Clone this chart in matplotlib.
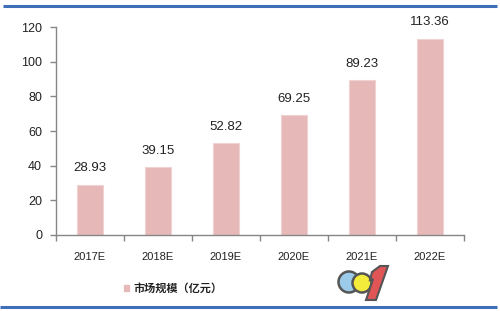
import matplotlib
matplotlib.use("Agg")
import matplotlib.pyplot as plt
from matplotlib.patches import Circle, Polygon

categories = ["2017E", "2018E", "2019E", "2020E", "2021E", "2022E"]
values = [28.93, 39.15, 52.82, 69.25, 89.23, 113.36]
value_labels = ["28.93", "39.15", "52.82", "69.25", "89.23", "113.36"]
series_name = "市场规模（亿元）"
yticks = [0, 20, 40, 60, 80, 100, 120]

plt.rcParams['font.family'] = ['Liberation Sans', 'Noto Sans CJK SC', 'DejaVu Sans']

fig = plt.figure(figsize=(5, 3.11), dpi=100)
fig.patch.set_facecolor('white')

ax = fig.add_axes([0.112, 0.2444, 0.816, 0.6687])
bar_color = '#E6B9B8'
x = list(range(len(categories)))
ax.bar(x, values, width=0.38, color=bar_color, edgecolor='#EFD3D2', linewidth=0.8, zorder=2)
ax.set_xlim(-0.5, len(categories) - 0.5)
ax.set_ylim(0, 120)
ax.set_yticks(yticks)
ax.set_yticklabels([str(v) for v in yticks], fontsize=9, color='#222222')
ax.set_xticks(x)
ax.set_xticklabels(categories, fontsize=8, color='#222222')
ax.tick_params(axis='x', length=0, pad=12)
ax.set_xticks([i - 0.5 for i in range(len(categories) + 1)], minor=True)
ax.tick_params(axis='x', which='minor', length=4, direction='out', color='#868686', width=1)
ax.tick_params(axis='y', length=4, direction='out', color='#868686', width=1, pad=6)
for s in ['top', 'right']:
    ax.spines[s].set_visible(False)
for s in ['left', 'bottom']:
    ax.spines[s].set_color('#868686')
    ax.spines[s].set_linewidth(1)

for xi, v, lab in zip(x, values, value_labels):
    ax.annotate(lab, (xi, v), xytext=(0, 7.5), textcoords='offset points',
                ha='center', va='bottom', fontsize=9.5, color='#222222')

# overlay in pixel coordinates
ov = fig.add_axes([0, 0, 1, 1], zorder=5)
ov.set_xlim(0, 500)
ov.set_ylim(311, 0)
ov.axis('off')
ov.patch.set_alpha(0)
ov.plot([3, 497], [5.5, 5.5], color='#3F6FB8', linewidth=2.2, solid_capstyle='butt')
ov.plot([0, 497], [306.5, 306.5], color='#3F6FB8', linewidth=2.2, solid_capstyle='butt')

# legend
ov.add_patch(plt.Rectangle((123.5, 284.5), 5, 6, color=bar_color))
ov.text(133, 288, series_name, fontsize=8, fontweight='bold', color='#222222',
        va='center', ha='left', family=['Noto Sans CJK SC', 'DejaVu Sans'])

# watermark logo
ov.add_patch(Circle((349, 282), 10.5, facecolor='#9CCBEA', edgecolor='#555555', linewidth=1.8))
ov.add_patch(Circle((362, 283), 9.5, facecolor='#F3EC3A', edgecolor='#555555', linewidth=1.8))
ov.add_patch(Polygon([(372, 272), (380, 266), (388, 266), (376, 300), (366, 300), (373, 279), (370, 280)],
                     closed=True, facecolor='#E05555', edgecolor='#555555', linewidth=1.5))

fig.savefig('out.png', dpi=100, facecolor='white')
